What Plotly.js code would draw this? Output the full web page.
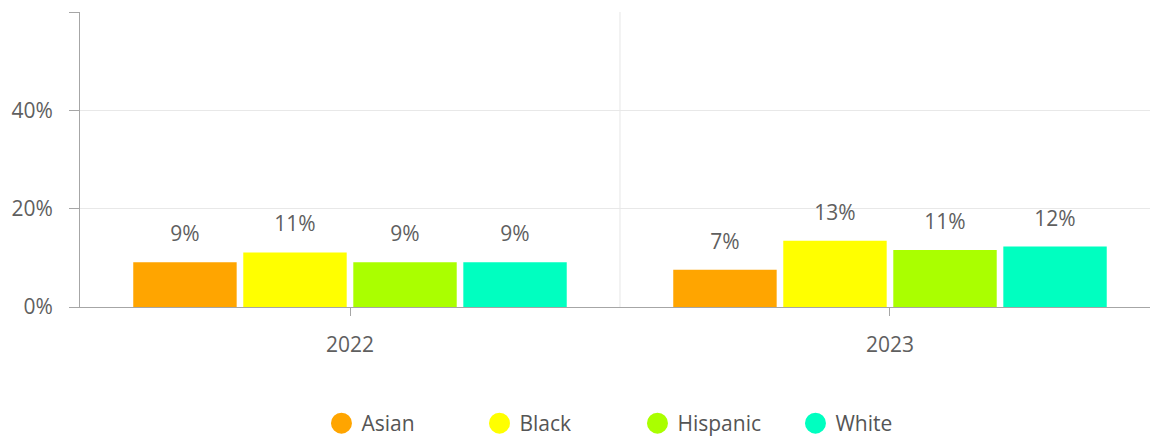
<!DOCTYPE html>
<html><head><meta charset="utf-8">
<script src="https://cdn.plot.ly/plotly-3.0.1.min.js"></script>
<style>html,body{margin:0;padding:0;background:#fff;overflow:hidden}</style>
</head><body><div id="chart" style="width:1150px;height:437px"></div>
<script>
const years = ['2022', '2023'];
const groups = ['Asian', 'Black', 'Hispanic', 'White'];
const asian = [9.1, 7.6];
const black = [11.1, 13.5];
const hispanic = [9.1, 11.6];
const white = [9.1, 12.3];
const colors = ['#FFA500', '#FFFF00', '#AAFF00', '#00FFC0'];
const yTickVals = [0, 20, 40, 60];
const yTickText = ['0%', '20%', '40%', ''];

const series = [asian, black, hispanic, white];
const FONT = '"Open Sans", "Segoe UI", sans-serif';
const TXT = '#5f5f5f';
// spacer raises the outside label above the bar
const pad = '<span style="font-size:62px">\u00a0</span>';

const traces = [];
groups.forEach((g, i) => {
  traces.push({
    type: 'bar', name: g, x: years, y: series[i],
    marker: {color: colors[i]},
    text: series[i].map(v => pad + Math.floor(v) + '%' + pad),
    textposition: 'outside', constraintext: 'none', cliponaxis: false,
    textfont: {family: FONT, size: 21, color: TXT},
    showlegend: false, legendgroup: g,
    hovertemplate: g + ': %{y}%<extra></extra>'
  });
});
groups.forEach((g, i) => {
  traces.push({
    type: 'scatter', mode: 'markers', name: g, x: [null], y: [null],
    marker: {color: colors[i], size: 16, symbol: 'circle', line: {color: colors[i], width: 5}},
    legendgroup: g, showlegend: true, hoverinfo: 'skip'
  });
});

const layout = {
  width: 1150, height: 437,
  margin: {l: 80, r: 0, t: 12, b: 130, autoexpand: false},
  paper_bgcolor: '#ffffff', plot_bgcolor: '#ffffff',
  font: {family: FONT, color: TXT, size: 21},
  barmode: 'group', bargap: 0.185, bargroupgap: 0.06,
  showlegend: true,
  legend: {orientation: 'h', x: 0.521, xanchor: 'center', y: -0.395, yanchor: 'middle',
           font: {family: FONT, size: 21, color: '#555555'}, entrywidth: 113,
           traceorder: 'normal', bgcolor: 'rgba(0,0,0,0)'},
  xaxis: {type: 'category', range: [-0.5, 1.4815], showgrid: false, zeroline: false,
          showline: true, linecolor: '#a6a6a6', linewidth: 1,
          ticks: 'outside', ticklen: 8, tickcolor: '#a6a6a6', ticklabelstandoff: 11,
          tickfont: {family: FONT, size: 21, color: TXT}, fixedrange: true},
  yaxis: {range: [0, 60], tickvals: yTickVals, ticktext: yTickText,
          showgrid: true, gridcolor: '#e8e8e8', zeroline: false,
          showline: true, linecolor: '#a6a6a6', linewidth: 1,
          ticks: 'outside', ticklen: 10, tickcolor: '#a6a6a6', ticklabelstandoff: 12,
          tickfont: {family: FONT, size: 21, color: TXT}, fixedrange: true},
  shapes: [{type: 'line', xref: 'x', yref: 'paper', x0: 0.5, x1: 0.5, y0: 0, y1: 1,
            line: {color: '#e6e6e6', width: 1}, layer: 'below'}]
};

Plotly.newPlot('chart', traces, layout, {displayModeBar: false, staticPlot: true});
</script></body></html>
